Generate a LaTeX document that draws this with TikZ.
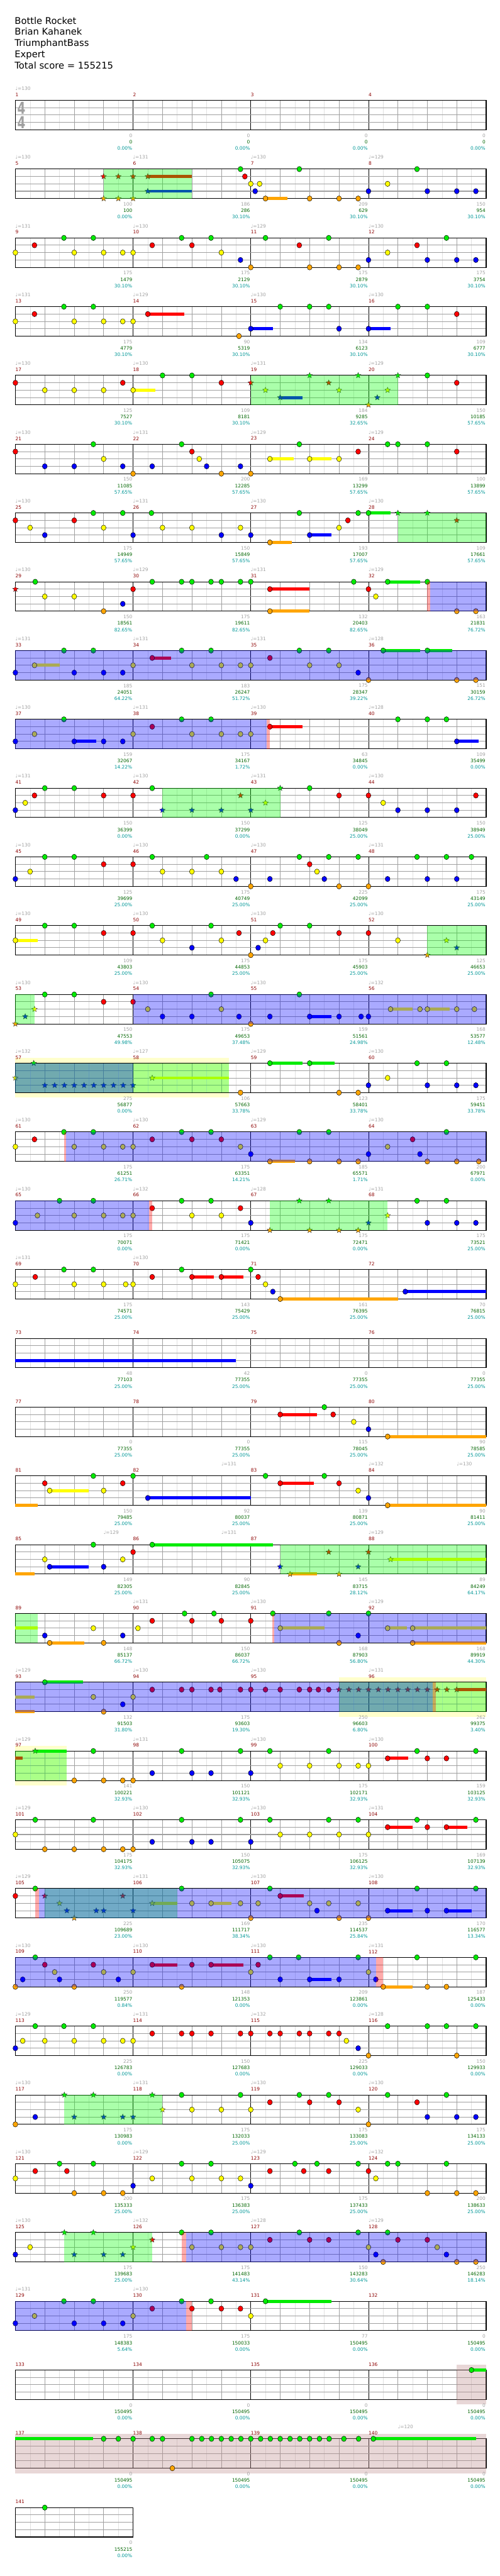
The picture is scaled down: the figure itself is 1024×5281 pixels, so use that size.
\documentclass[tikz,border=0pt]{standalone}
\usepackage{fontspec}
\setmainfont{DejaVu Sans}
\usetikzlibrary{shapes.geometric}

\definecolor{str0}{RGB}{0,235,0}
\definecolor{str1}{RGB}{255,0,0}
\definecolor{str2}{RGB}{255,255,0}
\definecolor{str3}{RGB}{0,0,255}
\definecolor{str4}{RGB}{255,165,0}
\definecolor{mred}{RGB}{139,0,0}
\definecolor{lblgray}{RGB}{160,160,160}
\definecolor{totgreen}{RGB}{0,100,0}
\definecolor{pctteal}{RGB}{0,150,150}
\definecolor{gridlight}{RGB}{225,225,225}
\definecolor{gridmid}{RGB}{160,160,160}
\definecolor{spgreen}{RGB}{0,255,0}
\definecolor{odblue}{RGB}{0,0,255}
\definecolor{hiyellow}{RGB}{255,255,204}
\definecolor{endpink}{RGB}{190,140,140}

% row r, position p in eighths from the row start, string s (0 = top)
\newcommand{\rowholds}[2]{%
  \foreach \p/\s/\e in {#2}
    \fill[str\s] ({31.5+30.16*\p},{205.7+141*(#1-1)+15.08*\s-3.2})
      rectangle ({31.5+30.16*\e},{205.7+141*(#1-1)+15.08*\s+3.2});}
\newcommand{\rownotes}[2]{%
  \foreach \p/\s [count=\i] in {#2}
    \node[gem, fill=str\s] (n#1-\i) at ({31.5+30.16*\p},{205.7+141*(#1-1)+15.08*\s}) {};}
\newcommand{\rowstars}[2]{%
  \foreach \p/\s [count=\i] in {#2}
    \node[stargem, fill=str\s] (st#1-\i) at ({31.5+30.16*\p},{205.7+141*(#1-1)+15.08*\s}) {};}

\def\spzones{2/6/12, 5/16/26, 7/26/32, 11/10/18, 13/28/32, 14/0/1.3, 15/0/14.5,
  17/17.3/25.3, 22/18/32, 23/0/1.5, 24/22/32, 25/0/3.5, 27/2/11, 30/3.33/10, 32/3.33/9.3}
\def\odzones{8/28.2/32, 9/0/32, 10/0/17.07, 14/8/32, 15/0/8, 16/3.46/32, 17/0/9.07,
  23/17.58/32, 24/0/28.35, 27/1.6/32, 28/0/24.5, 32/11.6/32, 33/0/11.6}
\def\actzones{8/28/28.2, 10/17.07/17.3, 16/3.3/3.46, 17/9.07/9.3, 23/17.45/17.58,
  24/28.35/28.6, 27/1.35/1.6, 28/24.5/25, 32/11.3/11.6, 33/11.6/12}
\def\hizones{15/0/14.5, 24/22/32, 25/0/3.5}
\def\endzones{34/30/32, 35/0/32}

\def\tempolist{1/0/130,
  2/0/130, 2/8/131, 2/16/130, 2/24/129, 3/0/131, 3/8/130, 3/16/129, 3/24/130,
  4/0/131, 4/8/129, 4/16/130, 4/24/130, 5/0/130, 5/8/130, 5/16/131, 5/24/129,
  6/0/130, 6/8/131, 6/16/129, 6/24/129, 7/0/130, 7/8/131, 7/16/130, 7/24/130,
  8/0/130, 8/8/129, 8/16/131, 8/24/129, 9/0/131, 9/8/131, 9/16/131, 9/24/128,
  10/0/130, 10/8/131, 10/16/130, 10/24/128, 11/0/131, 11/8/130, 11/16/131, 11/24/130,
  12/0/130, 12/8/130, 12/16/130, 12/24/131, 13/0/130, 13/8/130, 13/16/130, 13/24/130,
  14/0/130, 14/8/130, 14/16/130, 14/24/132, 15/0/132, 15/8/127, 15/16/129, 15/24/130,
  16/0/130, 16/8/130, 16/16/129, 16/24/130, 17/0/130, 17/8/132, 17/16/128, 17/24/131,
  18/0/131, 18/8/130, 21/14/131, 21/24/132, 21/30/130, 22/6/129, 22/14/131, 22/24/129,
  23/8/131, 23/16/130, 23/24/129, 24/0/129, 24/8/130, 24/16/130, 24/24/131,
  25/0/129, 25/8/131, 25/16/130, 25/24/130, 26/0/129, 26/8/130, 26/16/130, 26/24/131,
  27/0/129, 27/8/131, 27/16/130, 27/24/130, 28/0/130, 28/8/130, 28/16/130, 28/24/131,
  29/0/129, 29/8/131, 29/16/132, 29/24/128, 30/0/130, 30/8/131, 30/16/130, 30/24/130,
  31/0/130, 31/8/129, 31/16/129, 31/24/132, 32/0/130, 32/8/132, 32/16/128, 32/24/129,
  33/0/131, 33/8/130, 35/26/120}

% measure / base points / total / multiplier share
\def\scorelist{1/0/0/0.00, 2/0/0/0.00, 3/0/0/0.00, 4/0/0/0.00,
  5/100/100/0.00, 6/186/286/30.10, 7/209/629/30.10, 8/150/954/30.10,
  9/175/1479/30.10, 10/175/2129/30.10, 11/175/2879/30.10, 12/175/3754/30.10,
  13/175/4779/30.10, 14/90/5319/30.10, 15/134/6123/30.10, 16/109/6777/30.10,
  17/125/7527/30.10, 18/109/8181/30.10, 19/184/9285/32.65, 20/150/10185/57.65,
  21/150/11085/57.65, 22/200/12285/57.65, 23/169/13299/57.65, 24/100/13899/57.65,
  25/175/14949/57.65, 26/150/15849/57.65, 27/193/17007/57.65, 28/109/17661/57.65,
  29/150/18561/82.65, 30/175/19611/82.65, 31/132/20403/82.65, 32/163/21831/76.72,
  33/185/24051/64.22, 34/183/26247/51.72, 35/175/28347/39.22, 36/151/30159/26.72,
  37/159/32067/14.22, 38/175/34167/1.72, 39/63/34845/0.00, 40/109/35499/0.00,
  41/150/36399/0.00, 42/150/37299/0.00, 43/125/38049/25.00, 44/150/38949/25.00,
  45/125/39699/25.00, 46/175/40749/25.00, 47/225/42099/25.00, 48/175/43149/25.00,
  49/109/43803/25.00, 50/175/44853/25.00, 51/175/45903/25.00, 52/125/46653/25.00,
  53/150/47553/49.98, 54/175/49653/37.48, 55/159/51561/24.98, 56/168/53577/12.48,
  57/275/56877/0.00, 58/106/57663/33.78, 59/123/58401/33.78, 60/175/59451/33.78,
  61/175/61251/26.71, 62/175/63351/14.21, 63/185/65571/1.71, 64/200/67971/0.00,
  65/175/70071/0.00, 66/175/71421/0.00, 67/175/72471/0.00, 68/175/73521/25.00,
  69/175/74571/25.00, 70/143/75429/25.00, 71/161/76395/25.00, 72/70/76815/25.00,
  73/48/77103/25.00, 74/42/77355/25.00, 75/0/77355/25.00, 76/0/77355/25.00,
  77/0/77355/25.00, 78/0/77355/25.00, 79/115/78045/25.00, 80/90/78585/25.00,
  81/150/79485/25.00, 82/92/80037/25.00, 83/139/80871/25.00, 84/90/81411/25.00,
  85/149/82305/25.00, 86/90/82845/25.00, 87/145/83715/28.12, 88/89/84249/64.17,
  89/148/85137/66.72, 90/150/86037/66.72, 91/168/87903/56.80, 92/168/89919/44.30,
  93/132/91503/31.80, 94/175/93603/19.30, 95/250/96603/6.80, 96/262/99375/3.40,
  97/141/100221/32.93, 98/150/101121/32.93, 99/175/102171/32.93, 100/159/103125/32.93,
  101/175/104175/32.93, 102/150/105075/32.93, 103/175/106125/32.93, 104/169/107139/32.93,
  105/225/109689/23.00, 106/169/111717/38.34, 107/235/114537/25.84, 108/170/116577/13.34,
  109/250/119577/0.84, 110/148/121353/0.00, 111/209/123861/0.00, 112/187/125433/0.00,
  113/225/126783/0.00, 114/150/127683/0.00, 115/225/129033/0.00, 116/150/129933/0.00,
  117/175/130983/0.00, 118/175/132033/25.00, 119/175/133083/25.00, 120/175/134133/25.00,
  121/200/135333/25.00, 122/175/136383/25.00, 123/175/137433/25.00, 124/200/138633/25.00,
  125/175/139683/25.00, 126/175/141483/43.14, 127/150/143283/30.64, 128/250/146283/18.14,
  129/175/148383/5.64, 130/175/150033/0.00, 131/77/150495/0.00, 132/0/150495/0.00,
  133/0/150495/0.00, 134/0/150495/0.00, 135/0/150495/0.00, 136/0/150495/0.00,
  137/0/150495/0.00, 138/0/150495/0.00, 139/0/150495/0.00, 140/0/150495/0.00,
  141/0/155215/0.00}

\begin{document}
\begin{tikzpicture}[x=1pt, y=-1pt,
    every node/.style={inner sep=0pt},
    lbl/.style={font=\fontsize{9.6}{11}\selectfont},
    hdr/.style={anchor=base west, font=\fontsize{19}{23}\selectfont},
    mnum/.style={lbl, anchor=west, text=mred},
    tempo/.style={lbl, anchor=west, text=lblgray},
    pts/.style={lbl, anchor=east, text=lblgray},
    tot/.style={lbl, anchor=east, text=totgreen},
    pct/.style={lbl, anchor=east, text=pctteal},
    timesig/.style={text=lblgray, font=\fontsize{34}{34}\selectfont\bfseries},
    gem/.style={ellipse, draw=black, line width=0.6pt, minimum width=10pt, minimum height=11pt},
    stargem/.style={star, star points=5, star point ratio=2.25, draw=black!80,
                    line width=0.5pt, minimum size=12pt},
    eighthline/.style={draw=gridlight, line width=0.8pt},
    beatline/.style={draw=gridmid, line width=0.8pt},
    barline/.style={draw=black, line width=0.8pt},
    stringline/.style={draw=gridmid, line width=1.3pt},
    staffframe/.style={draw=black, line width=1.3pt},
    spzone/.style={fill=spgreen, fill opacity=0.333},
    odzone/.style={fill=odblue, fill opacity=0.333},
    actzone/.style={fill=red, fill opacity=0.333},
    hizone/.style={fill=hiyellow},
    endzone/.style={fill=endpink, fill opacity=0.35}
  ]
  \useasboundingbox (0,0) rectangle (1024,5281);

  \node[hdr] (title) at (30,49) {Bottle Rocket};
  \node[hdr] (artist) at (30,72) {Brian Kahanek};
  \node[hdr] (charter) at (30,95) {TriumphantBass};
  \node[hdr] (level) at (30,118) {Expert};
  \node[hdr] (total) at (30,141) {Total score = 155215};

  \foreach \r/\a/\b in \hizones
    \fill[hizone] ({31.5+30.16*\a},{205.7+141*(\r-1)-10.7}) rectangle ({31.5+30.16*\b},{205.7+141*(\r-1)+70.6});

  % staves
  \foreach \r in {1,...,36} {
    \pgfmathsetmacro\T{205.7+141*(\r-1)}
    \pgfmathtruncatemacro\ne{\r==36 ? 8 : 32}
    \pgfmathtruncatemacro\nl{\ne-1}
    \pgfmathsetmacro\W{30.16*\ne}
    \foreach \k in {1,3,...,\nl}
      \draw[eighthline] ({31.5+30.16*\k},\T) -- ++(0,60.3);
    \foreach \k in {2,4,...,\nl}
      \draw[beatline] ({31.5+30.16*\k},\T) -- ++(0,60.3);
    \ifnum\ne>8
      \foreach \k in {8,16,24}
        \draw[barline] ({31.5+30.16*\k},\T) -- ++(0,60.3);
    \fi
    \foreach \s in {1,2,3}
      \draw[stringline] (31.5,{\T+15.08*\s}) -- ++(\W,0);
    \draw[staffframe] (31.5,\T) rectangle ++(\W,60.3);
  }
  \node[timesig] (sigtop) at (44,221) {\scalebox{0.7}[1]{4}};
  \node[timesig] (sigbot) at (44,251) {\scalebox{0.7}[1]{4}};

  \foreach \r/\a/\b in \endzones
    \fill[endzone] ({31.5+30.16*\a},{205.7+141*(\r-1)-10.7}) rectangle ({31.5+30.16*\b},{205.7+141*(\r-1)+70.6});

  % sustains, then gems
  \rowholds{2}{9/1/12, 9/3/12, 17/4/18.5}
  \rowstars{2}{6/1, 7/1, 8/1, 9/1, 9/3, 6/4, 7/4, 8/4}
  \rownotes{2}{15.3/0, 15.6/1, 16/2, 16.6/2, 16.3/3, 17/4, 19.3/0, 20/4, 22/4, 23.3/4,
    24/3, 25.3/2, 27.3/0, 28/3, 30/3, 31.3/3}
  \rownotes{3}{0/2, 1.3/1, 3.3/0, 4/2, 5.3/0, 6/2, 7.3/2, 8/2, 9.3/1, 11.3/0, 12/1, 13.3/0,
    14/2, 15.3/3, 16/4, 17/0, 19.3/1, 20/4, 21.3/0, 22/4, 23.3/4, 24/3, 25.3/2, 27.3/1,
    28/3, 29.3/0, 30/3, 31.3/3}
  \rowholds{4}{9/1/11.5, 16/3/17.5, 24/3/25.5}
  \rownotes{4}{0/2, 1.3/1, 3.3/0, 4/2, 5.3/0, 6/2, 7.3/2, 8/2, 9/1, 15.2/4, 16/3, 18/0,
    20/0, 21.3/0, 22/3, 24/3, 26/0, 28/0, 30/1}
  \rowholds{5}{8/2/9.5, 18/3/19.5}
  \rownotes{5}{0/1, 2/2, 4/2, 6/2, 7.3/1, 8/2, 10/0, 12/0, 14/1, 28/0, 30/1}
  \rowstars{5}{16/1, 17/2, 18/3, 20/0, 21.3/1, 22/2, 23.3/0, 24/4, 24.6/3, 25.3/2, 26/0}
  \rowholds{6}{17.3/2/18.9, 20/2/21.5}
  \rownotes{6}{0/1, 2/3, 4/3, 5.3/0, 6/2, 7.3/3, 8/4, 9.3/3, 11.3/0, 12/1, 12.5/2, 13/3,
    14/4, 15.3/3, 16/4, 17.3/2, 19.3/0, 20/2, 22/2, 23.3/1, 25.3/0, 26/0, 28/0, 30/1}
  \rowholds{7}{17.3/4/18.8, 20/3/21.5, 24/0/25.5}
  \rownotes{7}{0/1, 1/2, 2/3, 4/1, 5.3/0, 6/2, 7.3/0, 8/3, 9.25/0, 10/2, 12/2, 14/3,
    15.3/2, 16/3, 17.3/4, 19.3/0, 20/3, 22/2, 22.6/1, 23.3/0, 24/0}
  \rowstars{7}{26/0, 28/0, 30/1}
  \rowholds{8}{17.3/1/20, 17.3/4/20, 25.3/0/27.5}
  \rowstars{8}{0/1}
  \rownotes{8}{1.35/0, 2/2, 4/2, 6/4, 7.3/3, 8/1, 9.3/0, 11.3/0, 12/0, 13.3/0, 14/0,
    15.3/0, 16/0, 17.3/1, 17.3/4, 23/0, 24/1, 24.5/2, 25.3/0, 28/0, 30/4, 31.3/4}
  \rowholds{9}{1.3/2/3, 9.3/1/10.6, 25/0/27.5, 28/0/29.7}
  \rownotes{9}{0/3, 1.3/2, 3.3/0, 4/3, 5.3/0, 6/3, 7.3/3, 8/2, 9.3/1, 11.3/0, 12/2, 13.3/0,
    14/2, 15.3/2, 16/2, 17.3/1, 19.3/0, 20/2, 21.3/0, 22/2, 23.3/3, 24/4, 25/0, 28/0,
    30/4, 31.3/4}
  \rowholds{10}{4/3/5.5, 17.3/1/19.5, 30/3/31.5}
  \rownotes{10}{0/3, 1.3/2, 3.3/0, 4/3, 6/3, 7.3/3, 8/2, 9.3/1, 11.3/0, 12/2, 13.3/0, 14/2,
    15.3/2, 16/2, 17.3/1, 26/0, 28/0, 29.3/0, 30/3}
  \rownotes{11}{0/3, 0.67/2, 1.3/1, 2/0, 4/0, 6/1, 8/1, 9.3/0, 20/0, 22/1, 24/1, 25/2,
    26/3, 28/3, 30/3, 31.3/1}
  \rowstars{11}{10/3, 12/3, 14/3, 15.3/1, 16/3, 17/2, 18/0}
  \rownotes{12}{0/3, 1/2, 2/0, 4/0, 6/1, 8/1, 9.3/0, 10/2, 12/2, 13/0, 14/2, 15/3, 16/4,
    17.3/3, 19.3/0, 20/1, 20.5/2, 21/3, 21.3/0, 22/4, 23.3/0, 24/4, 25.3/3, 27.3/0, 28/3,
    29.3/0, 30/3, 31/0}
  \rowholds{13}{0/2/1.5}
  \rownotes{13}{0/2, 2/0, 4/0, 6/1, 8/1, 9.3/0, 10/2, 12/3, 13.3/0, 14/2, 15.2/1, 16/4,
    16.5/3, 17/2, 17.5/1, 18/0, 20/0, 22/1, 24/1, 26/2}
  \rowstars{13}{28/4, 29.3/2, 30/3}
  \rowholds{14}{20/3/21.5, 25.5/2/27, 28/2/29.5}
  \rowstars{14}{0/4, 0.67/3, 1.3/2}
  \rownotes{14}{2/0, 4/0, 6/1, 8/1, 9/2, 10/3, 12/3, 13.3/0, 14/2, 15.2/3, 16/4, 17.3/3,
    19.3/0, 20/3, 22/3, 23.5/3, 24/3, 25.5/2, 27.5/2, 28/2, 30/2, 31.2/2}
  \rowholds{15}{9.3/2/14.5, 17.3/0/19.5, 20/0/21.7}
  \rowstars{15}{0/2, 1.25/0, 2/3, 2.67/3, 3.33/3, 4/3, 4.67/3, 5.33/3, 6/3, 6.67/3,
    7.33/3, 8/3, 9.3/2}
  \rownotes{15}{15.3/4, 17.3/0, 20/0, 22/4, 23.3/4, 24/3, 25.3/2, 27.3/0, 28/3, 29.3/0,
    30/3, 31.3/3}
  \rowholds{16}{17.3/4/19}
  \rownotes{16}{0/2, 1.3/1, 3.3/0, 4/2, 5.3/0, 6/2, 7.3/2, 8/2, 9.3/1, 11.3/0, 12/1,
    13.3/0, 14/1, 15.3/2, 16/3, 17.3/4, 19.3/0, 20/4, 21.3/0, 22/4, 23.3/4, 24/3, 25.3/2,
    27/1, 27.5/3, 28/4, 29.3/0, 30/4, 31.5/4}
  \rownotes{17}{0/3, 1.5/2, 3/0, 4/2, 5.3/0, 6/2, 7.3/2, 8/2, 9.3/1, 11.3/0, 12/2,
    13.3/0, 14/2, 15.3/1, 16/3, 27.3/0, 28/3, 29.3/0, 30/3, 31.3/3}
  \rowstars{17}{17.3/4, 19.3/0, 20/4, 21.3/0, 22/4, 23.3/4, 24/3, 25.3/2}
  \rowholds{18}{12/1/13.5, 14/1/15.5, 18/4/26, 26.5/3/32}
  \rownotes{18}{0/2, 1.35/1, 3.3/0, 4/2, 5.3/0, 6/2, 7.5/2, 8/2, 9.3/1, 11.3/0, 12/1,
    14/1, 16/0, 16.5/1, 17/2, 17.5/3, 18/4, 26.5/3}
  \rowholds{19}{0/3/15}
  \rowholds{20}{18/1/20.5, 25.3/4/32}
  \rownotes{20}{18/1, 21/0, 21.6/1, 23/2, 24/3, 25.3/4}
  \rowholds{21}{0/4/1.5, 2.33/2/5, 9/3/16, 18/1/20.3, 25.3/4/32}
  \rownotes{21}{2/1, 2.33/2, 5.3/0, 6/2, 7.3/1, 8/0, 9/3, 17/0, 18/1, 21/0, 22/1,
    23.3/2, 24/3, 25.3/4}
  \rowholds{22}{0/4/1.3, 2.33/3/5, 9.3/0/17.5, 18.67/4/20.5, 25.5/2/32}
  \rownotes{22}{2/2, 2.33/3, 5.3/0, 6/3, 7.3/2, 8/1, 9.3/0}
  \rowstars{22}{18/3, 18.67/4, 21.3/1, 22/4, 23.3/3, 24/1, 25.5/2}
  \rowholds{23}{0/2/1.5, 2.33/4/4.67, 18/2/21, 25.3/2/26.6, 27/2/32, 27/4/32}
  \rownotes{23}{2/3, 2.33/4, 5.3/2, 6/4, 7.3/3, 8.33/2, 9.3/1, 11.5/0, 12/1, 13.5/0,
    14/1, 16/1, 17.5/0, 18/2, 21.3/0, 22/4, 23.3/3, 24/0, 25.3/2, 27/2, 27/4}
  \rowholds{24}{0/2/1.3, 0/4/1.3, 2/0/4.6, 30/1/32}
  \rownotes{24}{2/0, 5.3/2, 6/4, 7.3/3, 8/2, 9.3/1, 11.3/1, 12/1, 13.3/1, 13.9/1, 15.3/1,
    16/1, 17/1, 18/1, 19.3/1, 20/1, 20.6/1, 21.3/1}
  \rowstars{24}{22/1, 22.67/1, 23.33/1, 24/1, 24.67/1, 25.33/1, 26/1, 26.67/1, 27.33/1,
    28/1, 28.67/1, 29.33/1, 30/1}
  \rowholds{25}{0/1/0.5, 1.35/0/3.5, 25.3/1/26.7}
  \rowstars{25}{1.35/0}
  \rownotes{25}{4/4, 5.3/0, 6/4, 7.3/4, 8/4, 9.3/3, 11.3/0, 12/3, 13.3/3, 15.3/0, 16/3,
    17.3/0, 18/2, 20/2, 21.3/0, 22/2, 23.3/2, 24/2, 25.3/1, 27.3/0, 28/1, 29.3/1, 31.3/0}
  \rowholds{26}{25.3/1/27, 29.3/1/30.7}
  \rownotes{26}{0/2, 1.35/0, 2/4, 4/4, 5.3/0, 6/4, 7.3/4, 8/4, 9.3/3, 11.3/0, 12/3,
    13.3/3, 15.3/0, 16/3, 17.3/0, 18/2, 20/2, 21.3/0, 22/2, 23.3/0, 24/2, 25.3/1, 27.3/0,
    28/1, 29.3/1, 31.3/0}
  \rowholds{27}{9.3/2/11, 13.3/2/14.7, 18/1/19.6, 25.3/3/27, 29.3/3/31}
  \rownotes{27}{0/1, 1.35/0, 11.3/0, 12/2, 13.3/2, 15.3/2, 16/4, 16.5/2, 17.3/0, 18/1,
    20/2, 20.5/3, 21.3/2, 22/4, 23.3/2, 24/4, 25.3/3, 27.3/0, 28/3, 29.3/3, 31.3/0}
  \rowstars{27}{2/1, 3/2, 3.5/3, 4/4, 5.5/3, 6/3, 7.3/1, 8/3, 9.3/2}
  \rowholds{28}{9.3/1/11, 13.3/1/15.5, 20/3/21.5, 25/4/27}
  \rownotes{28}{0/4, 0.5/3, 1.35/0, 2/1, 2.67/2, 3/3, 4/4, 5.3/1, 6/2, 7/3, 8/2, 9.3/1,
    11.3/4, 12/1, 13.3/1, 16/2, 16.5/1, 17.3/0, 18/3, 19.25/0, 20/3, 22/3, 23.3/0, 24/2,
    24.5/3, 25/4, 27.3/0, 28/4, 29.3/4, 31.3/0}
  \rownotes{29}{0/3, 0.5/2, 1.35/0, 2/2, 3.3/0, 4/2, 5.3/0, 6/2, 7.3/2, 8/2, 9.3/1,
    11.3/1, 12/1, 13.3/1, 15.3/1, 16/1, 17.3/1, 18/1, 19.3/1, 20/1, 21.3/1, 22/1, 22.5/2,
    23.3/3, 24/4, 25.3/0, 28/0, 29.3/0, 30/4, 31.3/0}
  \rownotes{30}{0/4, 1.35/3, 11.3/0, 12/2, 14/2, 15.3/0, 16/2, 17.3/1, 19.3/0, 20/1,
    21.3/0, 22/1, 23.3/2, 24/4, 25.3/0, 27.3/1, 28/3, 29.3/0, 30/3, 31.3/3}
  \rowstars{30}{3.33/0, 4/3, 5.3/0, 6/3, 7.3/3, 8/3, 9.3/0, 10/2}
  \rownotes{31}{0/2, 1.35/1, 3/0, 3.5/1, 4/4, 5.3/0, 6/4, 7.3/4, 8/3, 9.3/2, 11.3/0,
    12/2, 13.3/0, 14/2, 15.3/2, 16/3, 17.3/1, 19/0, 19.6/1, 20.5/0, 21.3/1, 23.3/0, 24/1,
    24.5/2, 25.3/0, 26/0, 28/4, 29.3/0, 30/4, 31.3/4}
  \rownotes{32}{0/3, 1/2, 11.3/0, 12/2, 13.3/0, 14/2, 15.3/2, 16/2, 17.3/1, 19.3/0, 20/1,
    21.3/1, 23.3/0, 24/2, 24.5/3, 25/4, 25.3/0, 26/1, 28/1, 28.67/2, 29.3/3, 30/4, 31.3/4}
  \rowstars{32}{3.33/0, 4/3, 5.3/0, 6/3, 7.3/3, 8/2, 9.3/1}
  \rowholds{33}{17/0/21.5}
  \rownotes{33}{0/3, 1.3/2, 3.3/0, 4/3, 5.3/0, 6/3, 7.3/3, 8/2, 9.3/1, 11.3/0, 12/1,
    13.3/0, 14/1, 15.3/1, 16/2, 17/0}
  \rowholds{34}{31/0/32}
  \rownotes{34}{31/0}
  \rowholds{35}{0/0/5.3, 24.3/0/31.3}
  \rownotes{35}{6/0, 7/0, 8/0, 9.3/0, 10/0, 10.67/4, 12/0, 12.67/0, 13.33/0, 14/0,
    14.67/0, 15.33/0, 16/0, 16.67/0, 17.33/0, 18/0, 18.67/0, 19.33/0, 20/0, 20.67/0,
    21.33/0, 22.33/0, 23.33/0, 24.33/0}
  \rownotes{36}{2/0}

  % star power, overdrive and activation overlays
  \foreach \r/\a/\b in \spzones
    \fill[spzone] ({31.5+30.16*\a},{205.7+141*(\r-1)}) rectangle ({31.5+30.16*\b},{205.7+141*(\r-1)+60.3});
  \foreach \r/\a/\b in \odzones
    \fill[odzone] ({31.5+30.16*\a},{205.7+141*(\r-1)}) rectangle ({31.5+30.16*\b},{205.7+141*(\r-1)+60.3});
  \foreach \r/\a/\b in \actzones
    \fill[actzone] ({31.5+30.16*\a},{205.7+141*(\r-1)}) rectangle ({31.5+30.16*\b},{205.7+141*(\r-1)+60.3});

  \foreach \r/\p/\v [count=\i] in \tempolist
    \node[tempo] (tp\i) at ({31.5+30.16*\p},{205.7+141*(\r-1)-24.4}) {♩=\v};

  \foreach \m/\a/\b/\c in \scorelist {
    \pgfmathtruncatemacro\rr{(\m-1)/4}
    \pgfmathtruncatemacro\cc{\m-1-4*\rr}
    \pgfmathsetmacro\xs{31.5+241.3*\cc}
    \pgfmathsetmacro\xe{\xs+241.3-1.5}
    \pgfmathsetmacro\T{205.7+141*\rr}
    \node[mnum] (mn\m) at (\xs,{\T-11.7}) {\m};
    \node[pts] (pt\m) at (\xe,{\T+72}) {\a};
    \node[tot] (tt\m) at (\xe,{\T+85.3}) {\b};
    \node[pct] (pc\m) at (\xe,{\T+98.3}) {\c\%};
  }
\end{tikzpicture}
\end{document}
